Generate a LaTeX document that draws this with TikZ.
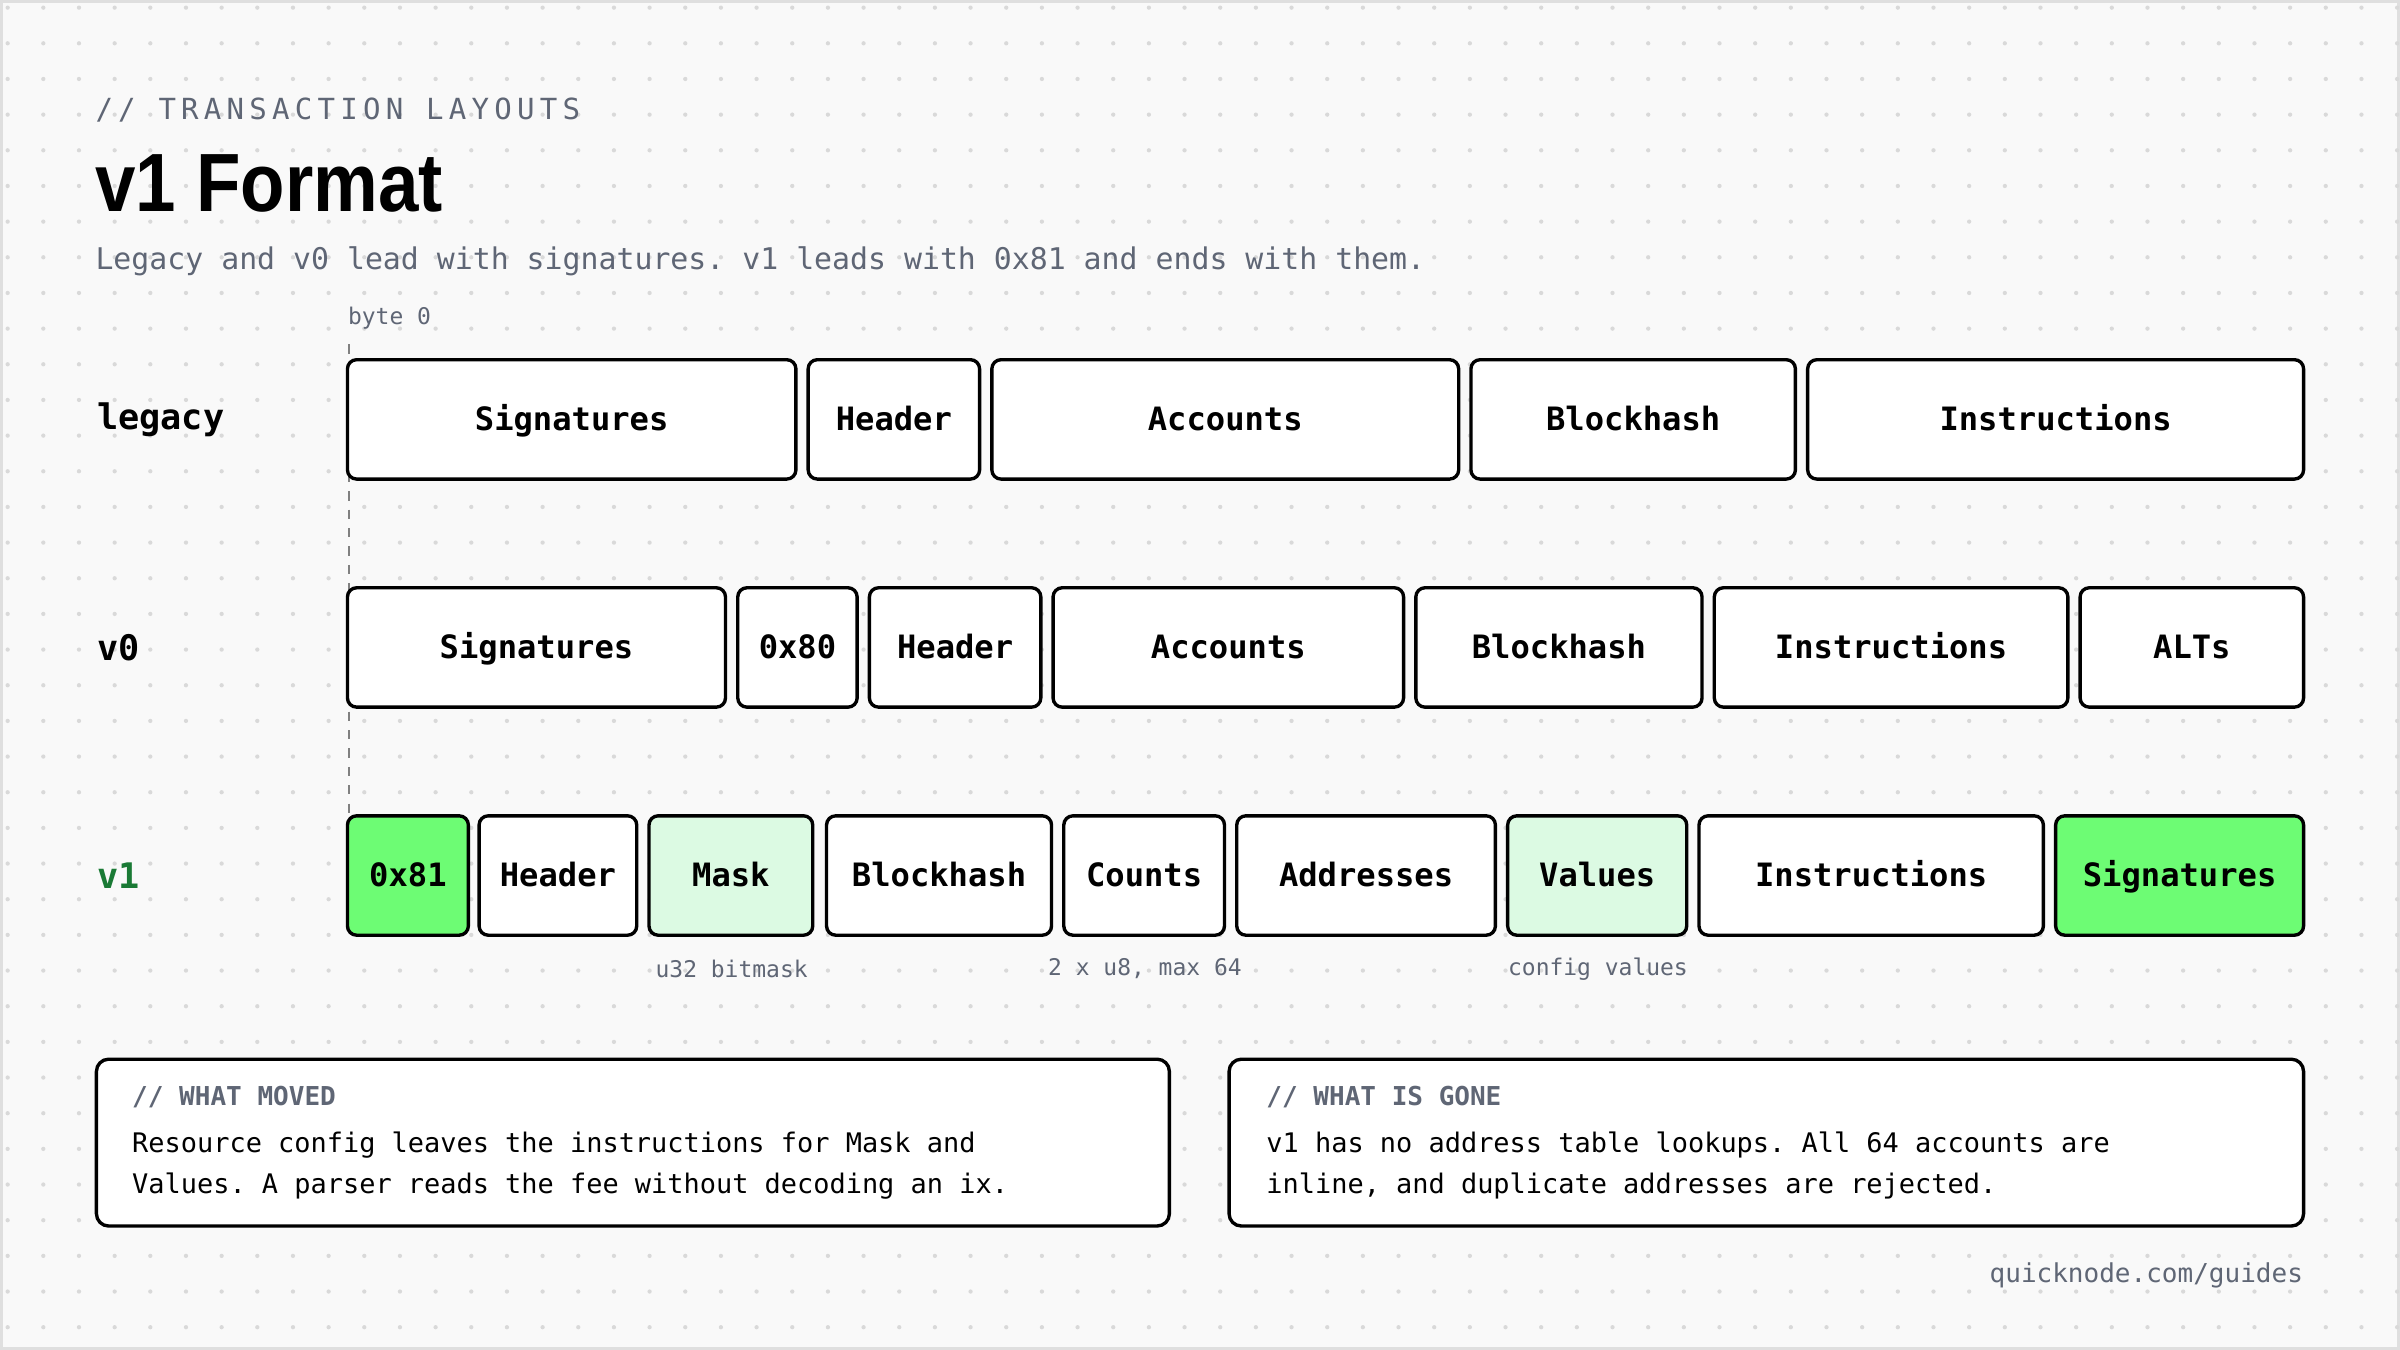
\documentclass[tikz,border=0pt]{standalone}
\usepackage{fontspec}
\setmainfont{DejaVu Sans Mono}
\newfontfamily\titlefont{Liberation Sans}
\newfontfamily\kickfont[LetterSpace=18]{DejaVu Sans Mono}
\frenchspacing
\begin{document}
\begin{tikzpicture}[x=0.5pt,y=-0.5pt,
  box/.style={draw=black,line width=1.1pt,rounded corners=3pt,fill=white,font=\bfseries\fontsize{10.5}{12}\selectfont,inner sep=0pt,text height=8.8pt,text depth=1.4pt},
  green/.style={fill=gA},
  light/.style={fill=gB},
  sub/.style={font=\fontsize{7.5}{9}\selectfont,text=sl},
  rowlab/.style={font=\bfseries\fontsize{11.5}{13}\selectfont,anchor=west,inner sep=0pt},
  note/.style={draw=black,line width=1.1pt,rounded corners=4pt,fill=white},
  ntxt/.style={anchor=base west,font=\fontsize{8.8}{10}\selectfont,inner sep=0pt}]
\definecolor{gA}{HTML}{6DFC74}
\definecolor{gB}{HTML}{DCFAE3}
\definecolor{sl}{HTML}{5F6675}
\definecolor{bg}{HTML}{F9F9F9}
\definecolor{dg}{HTML}{1A7A35}
\useasboundingbox (0,0) rectangle (1568,882);
\fill[bg] (0,0) rectangle (1568,882);
\draw[gray!25,line width=0.8pt] (1,1) rectangle (1567,881);
\foreach \i in {0,...,67}{\foreach \j in {0,...,38}{
  \fill[gray!30] (\i*23.3+5,\j*23.3+5) circle (0.7pt);}}
\node[anchor=base west,font=\kickfont\fontsize{9.5}{11}\selectfont,text=sl,inner sep=0pt] (kick) at (62,78) {// TRANSACTION LAYOUTS};
\node[anchor=base west,font=\titlefont\bfseries\fontsize{27}{30}\selectfont,inner sep=0pt] (title) at (62,138) {\scalebox{0.88}[1]{v1 Format}};
\node[anchor=base west,font=\fontsize{9.75}{12}\selectfont,text=sl,inner sep=0pt] (subt) at (62,176) {Legacy and v0 lead with signatures. v1 leads with 0x81 and ends with them.};
\node[anchor=base west,sub,inner sep=0pt] (b0) at (227,212) {byte 0};
\coordinate (d1) at (228,225); \coordinate (d2) at (228,533);
\draw[gray,dashed,line width=0.6pt] (d1) -- (d2);
\node[rowlab] (l1) at (63,274) {legacy};
\node[rowlab] (l2) at (63,423) {v0};
\node[rowlab,text=dg] (l3) at (63,572) {v1};
\foreach \a/\b/\t [count=\k] in {227/520/Signatures,528/640/Header,648/953/Accounts,961/1173/Blockhash,1181/1505/Instructions}{
  \node[box,minimum width=(\b-\a)*0.5pt,minimum height=39pt] (a\k) at ({(\a+\b)/2},274) {\t};}
\foreach \a/\b/\t [count=\k] in {227/474/Signatures,482/560/0x80,568/680/Header,688/917/Accounts,925/1112/Blockhash,1120/1351/Instructions,1359/1505/ALTs}{
  \node[box,minimum width=(\b-\a)*0.5pt,minimum height=39pt] (b\k) at ({(\a+\b)/2},423) {\t};}
\foreach \a/\b/\t/\s [count=\k] in {227/306/0x81/green,313/416/Header/box,424/531/Mask/light,540/687/Blockhash/box,695/800/Counts/box,808/977/Addresses/box,985/1102/Values/light,1110/1335/Instructions/box,1343/1505/Signatures/green}{
  \node[box,\s,minimum width=(\b-\a)*0.5pt,minimum height=39pt] (c\k) at ({(\a+\b)/2},572) {\t};}
\node[sub] (s1) at (478,633) {u32 bitmask};
\node[sub] (s2) at (748,633) {2 x u8, max 64};
\node[sub] (s3) at (1044,633) {config values};
\node[note,minimum width=350.5pt,minimum height=54.5pt] (n1) at (413.5,746.5) {};
\node[note,minimum width=351pt,minimum height=54.5pt] (n2) at (1154,746.5) {};
\node[anchor=base west,font=\bfseries\fontsize{8.5}{10}\selectfont,text=sl,inner sep=0pt] (h1) at (86,722) {// WHAT MOVED};
\node[ntxt] (t1) at (86,753) {Resource config leaves the instructions for Mask and};
\node[ntxt] (t1b) at (86,780) {Values. A parser reads the fee without decoding an ix.};
\node[anchor=base west,font=\bfseries\fontsize{8.5}{10}\selectfont,text=sl,inner sep=0pt] (h2) at (827,722) {// WHAT IS GONE};
\node[ntxt] (t2) at (827,753) {v1 has no address table lookups. All 64 accounts are};
\node[ntxt] (t2b) at (827,780) {inline, and duplicate addresses are rejected.};
\node[anchor=base east,font=\fontsize{8.5}{10}\selectfont,text=sl,inner sep=0pt] (ft) at (1505,838) {quicknode.com/guides};
\end{tikzpicture}
\end{document}
